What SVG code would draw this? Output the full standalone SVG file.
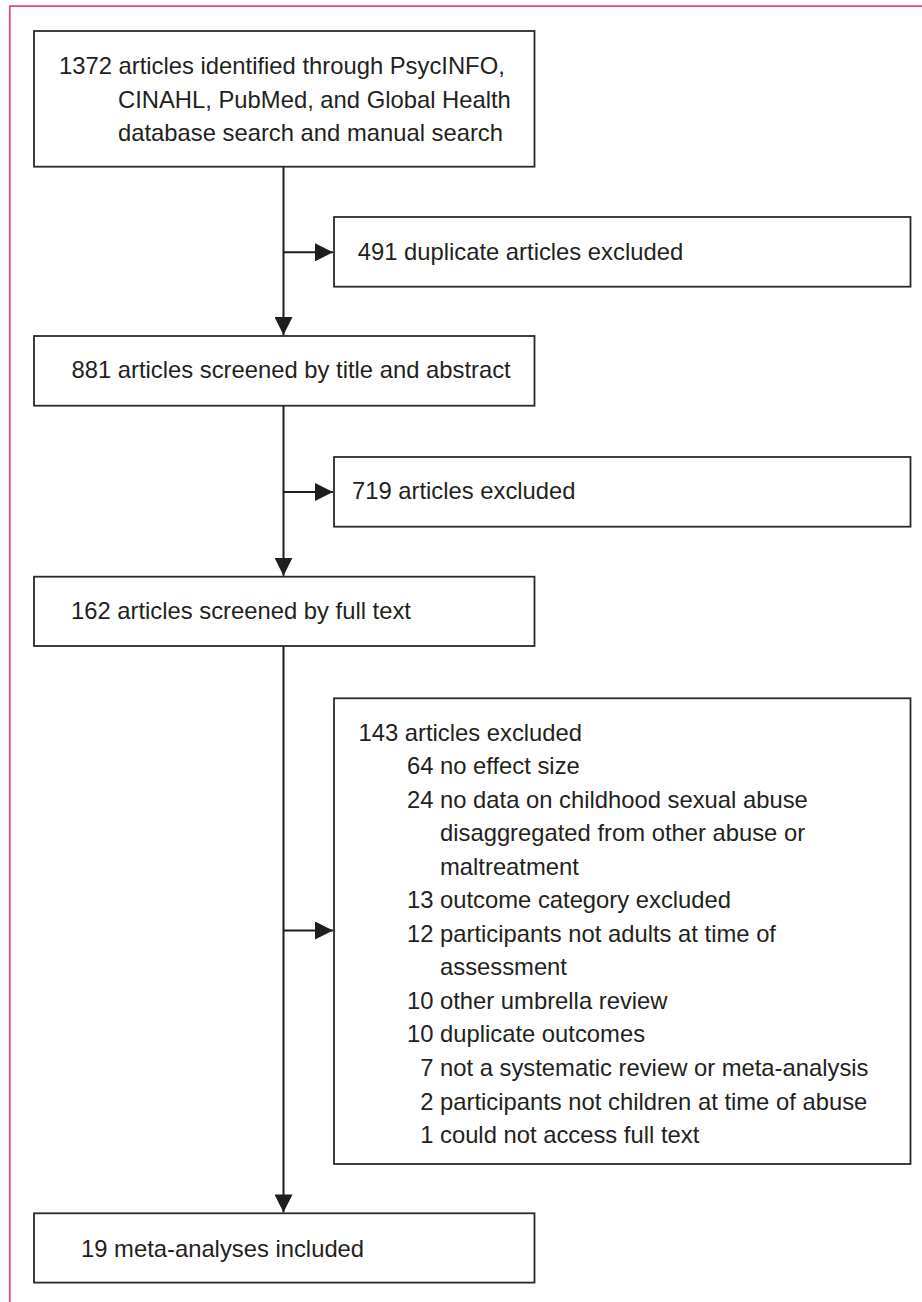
<svg xmlns="http://www.w3.org/2000/svg" width="922" height="1302" viewBox="0 0 922 1302">
<defs>
<style>
.box{fill:#fff;stroke:#2a2a2a;stroke-width:1.8}
.t{font-family:"Liberation Sans",Arial,sans-serif;font-size:23.8px;fill:#231f20}
.n{text-anchor:end}
.ln{stroke:#1e1e1e;stroke-width:2;fill:none}
.frame{stroke:#e34a7d;stroke-width:1.8;fill:none}
</style>
<marker id="ah" viewBox="0 0 18 18" refX="18" refY="9" markerWidth="18" markerHeight="18" markerUnits="userSpaceOnUse" orient="auto">
<path d="M0,0 L18,9 L0,18 Z" fill="#1e1e1e"/>
</marker>
</defs>
<rect width="922" height="1302" fill="#fff"/>
<path class="frame" d="M9.8,1302 V6.2 H922"/>

<g id="connectors">
<line class="ln" x1="283.5" y1="166.7" x2="283.5" y2="335" marker-end="url(#ah)"/>
<line class="ln" x1="283.5" y1="252.3" x2="333" y2="252.3" marker-end="url(#ah)"/>
<line class="ln" x1="283.5" y1="405.7" x2="283.5" y2="575.8" marker-end="url(#ah)"/>
<line class="ln" x1="283.5" y1="492" x2="333" y2="492" marker-end="url(#ah)"/>
<line class="ln" x1="283.5" y1="646" x2="283.5" y2="1212.4" marker-end="url(#ah)"/>
<line class="ln" x1="283.5" y1="930.5" x2="333" y2="930.5" marker-end="url(#ah)"/>
</g>

<g id="identified">
<rect class="box" x="34" y="31" width="500.5" height="135.7"/>
<text class="t" x="59" y="74.3">1372 articles identified through PsycINFO,</text>
<text class="t" x="118" y="107.6">CINAHL, PubMed, and Global Health</text>
<text class="t" x="118" y="140.9">database search and manual search</text>
</g>

<g id="duplicates">
<rect class="box" x="334" y="217" width="576.5" height="69.7"/>
<text class="t" x="357.7" y="259.5">491 duplicate articles excluded</text>
</g>

<g id="screened">
<rect class="box" x="34" y="336" width="500.5" height="69.7"/>
<text class="t" x="71.5" y="378.3">881 articles screened by title and abstract</text>
</g>

<g id="excluded719">
<rect class="box" x="334" y="457" width="576.5" height="69.7"/>
<text class="t" x="352" y="499.3">719 articles excluded</text>
</g>

<g id="fulltext">
<rect class="box" x="34" y="576.7" width="500.5" height="69.3"/>
<text class="t" x="71" y="619.3">162 articles screened by full text</text>
</g>

<g id="excluded143">
<rect class="box" x="334" y="698.3" width="576.5" height="465.7"/>
<text class="t" x="358.5" y="740.5">143 articles excluded</text>
<text class="t n" x="433.5" y="774">64</text><text class="t" x="440" y="774">no effect size</text>
<text class="t n" x="433.5" y="807.6">24</text><text class="t" x="440" y="807.6">no data on childhood sexual abuse</text>
<text class="t" x="440" y="841.1">disaggregated from other abuse or</text>
<text class="t" x="440" y="874.7">maltreatment</text>
<text class="t n" x="433.5" y="908.2">13</text><text class="t" x="440" y="908.2">outcome category excluded</text>
<text class="t n" x="433.5" y="941.8">12</text><text class="t" x="440" y="941.8">participants not adults at time of</text>
<text class="t" x="440" y="975.3">assessment</text>
<text class="t n" x="433.5" y="1008.9">10</text><text class="t" x="440" y="1008.9">other umbrella review</text>
<text class="t n" x="433.5" y="1042.4">10</text><text class="t" x="440" y="1042.4">duplicate outcomes</text>
<text class="t n" x="433.5" y="1076">7</text><text class="t" x="440" y="1076">not a systematic review or meta-analysis</text>
<text class="t n" x="433.5" y="1109.5">2</text><text class="t" x="440" y="1109.5">participants not children at time of abuse</text>
<text class="t n" x="433.5" y="1143.1">1</text><text class="t" x="440" y="1143.1">could not access full text</text>
</g>

<g id="included">
<rect class="box" x="34" y="1213.3" width="500.5" height="69.3"/>
<text class="t" x="81" y="1256.5">19 meta-analyses included</text>
</g>
</svg>
